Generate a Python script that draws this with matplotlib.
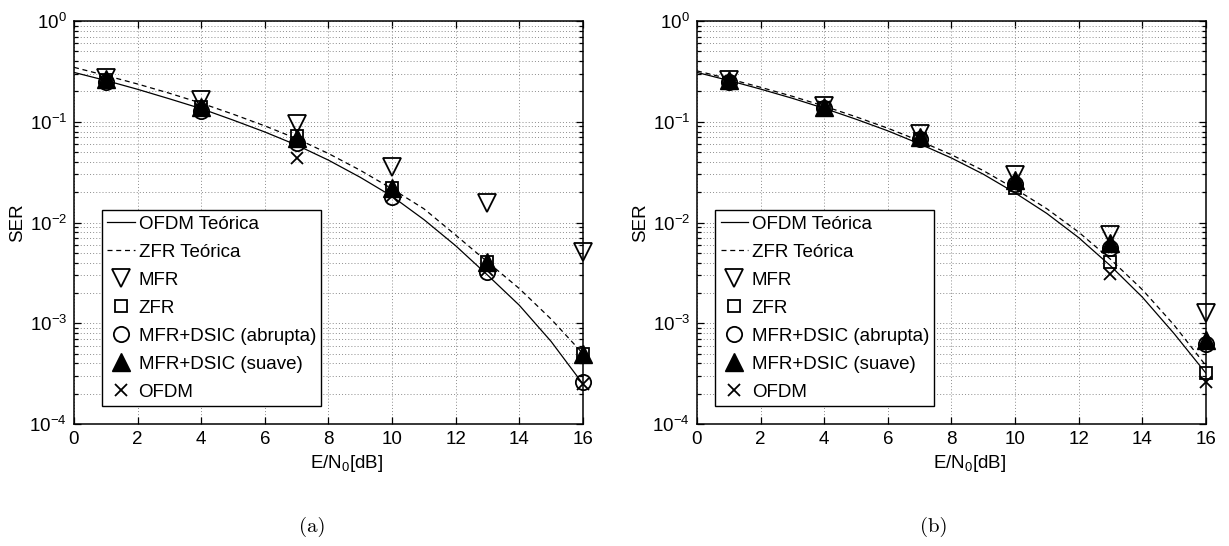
import numpy as np
import matplotlib
matplotlib.use('Agg')
import matplotlib.pyplot as plt
from matplotlib.ticker import LogLocator, NullFormatter, FixedLocator

plt.rcParams['font.family'] = ['Liberation Sans', 'DejaVu Sans']
plt.rcParams['mathtext.fontset'] = 'custom'
plt.rcParams['mathtext.rm'] = 'Liberation Sans'
plt.rcParams['mathtext.it'] = 'Liberation Sans:italic'
plt.rcParams['mathtext.bf'] = 'Liberation Sans:bold'

FS = 13.5

# E/N0 grid for the theoretical curves and for the simulated points
snr_th = [0, 1, 2, 3, 4, 5, 6, 7, 8, 9, 10, 11, 12, 13, 14, 15, 16]
snr = [1, 4, 7, 10, 13, 16]

# (a)
ofdm_th_a = [0.309, 0.257, 0.210, 0.169, 0.135, 0.104, 0.0792, 0.0587, 0.0416,
             0.0281, 0.0182, 0.0107, 0.00588, 0.00301, 0.00151, 0.00066, 0.00025]
zfr_th_a = [0.347, 0.288, 0.237, 0.192, 0.153, 0.119, 0.091, 0.068, 0.0484,
            0.033, 0.0216, 0.0137, 0.0075, 0.00406, 0.00221, 0.0011, 0.0005]
mfr_a = [0.27, 0.165, 0.095, 0.0356, 0.0157, 0.0051]
zfr_a = [0.26, 0.14, 0.072, 0.022, 0.0041, 0.0005]
abrupta_a = [0.25, 0.128, 0.062, 0.018, 0.0032, 0.00026]
suave_a = [0.265, 0.14, 0.069, 0.022, 0.0041, 0.0005]
ofdm_a = [0.25, 0.135, 0.044, 0.0185, 0.0034, 0.00025]

# (b)
ofdm_th_b = [0.309, 0.257, 0.211, 0.171, 0.136, 0.106, 0.0813, 0.0603, 0.0437,
             0.0302, 0.0197, 0.0123, 0.00708, 0.00372, 0.00182, 0.00079, 0.00032]
zfr_th_b = [0.320, 0.267, 0.220, 0.179, 0.143, 0.112, 0.0863, 0.0646, 0.0471,
            0.0328, 0.0216, 0.0137, 0.00803, 0.00432, 0.00216, 0.00096, 0.00038]
mfr_b = [0.26, 0.145, 0.075, 0.0296, 0.0075, 0.00126]
zfr_b = [0.245, 0.138, 0.068, 0.022, 0.0041, 0.00032]
abrupta_b = [0.25, 0.137, 0.067, 0.024, 0.0056, 0.00062]
suave_b = [0.26, 0.14, 0.07, 0.0263, 0.0063, 0.00068]
ofdm_b = [0.25, 0.14, 0.068, 0.023, 0.0031, 0.00026]

labels = ['OFDM Teórica', 'ZFR Teórica', 'MFR', 'ZFR',
          'MFR+DSIC (abrupta)', 'MFR+DSIC (suave)', 'OFDM']


def panel(ax, ofdm_th, zfr_th, mfr, zfr, abrupta, suave, ofdm, leg_x):
    ax.semilogy(snr_th, ofdm_th, 'k-', lw=0.9, label=labels[0])
    ax.semilogy(snr_th, zfr_th, 'k--', lw=0.9, dashes=(4, 3), label=labels[1])
    mk = dict(ls='none', color='k', clip_on=False, zorder=3)
    ax.semilogy(snr, mfr, marker='v', ms=13, mfc='none', mew=1.3, label=labels[2], **mk)
    ax.semilogy(snr, zfr, marker='s', ms=9, mfc='none', mew=1.3, label=labels[3], **mk)
    ax.semilogy(snr, abrupta, marker='o', ms=11, mfc='none', mew=1.3, label=labels[4], **mk)
    ax.semilogy(snr, suave, marker='^', ms=13, mfc='k', mew=1.0, label=labels[5], **mk)
    ax.semilogy(snr, ofdm, marker='x', ms=9, mew=1.3, label=labels[6], **mk)

    ax.set_xlim(0, 16)
    ax.set_ylim(1e-4, 1)
    ax.xaxis.set_major_locator(FixedLocator([0, 2, 4, 6, 8, 10, 12, 14, 16]))
    ax.yaxis.set_major_locator(LogLocator(base=10, numticks=10))
    ax.yaxis.set_minor_locator(LogLocator(base=10, subs=np.arange(2, 10), numticks=10))
    ax.yaxis.set_minor_formatter(NullFormatter())

    ax.grid(True, which='major', axis='both', color='0.55', ls=(0, (1, 2.2)), lw=0.7)
    ax.grid(True, which='minor', axis='y', color='0.55', ls=(0, (1, 2.2)), lw=0.7)
    ax.set_axisbelow(True)
    ax.tick_params(which='both', direction='in', top=True, right=True,
                   labelsize=FS, width=0.9)
    ax.tick_params(which='major', length=5, pad=5)
    ax.tick_params(which='minor', length=3)
    for s in ax.spines.values():
        s.set_linewidth(1.1)

    ax.set_xlabel(r'E/N$_0$[dB]', fontsize=FS)
    ax.xaxis.set_label_coords(0.535, -0.072)
    ax.set_ylabel('SER', fontsize=FS)
    ax.yaxis.set_label_coords(-0.095, 0.5)

    leg = ax.legend(loc='lower left', bbox_to_anchor=(leg_x, 0.045), borderaxespad=0,
                    fontsize=FS, numpoints=1, handlelength=1.47, handletextpad=0.2,
                    labelspacing=0.58, borderpad=0.28, fancybox=False,
                    framealpha=1, edgecolor='k')
    leg.get_frame().set_linewidth(1.0)


fig = plt.figure(figsize=(12.29, 5.46), dpi=100)
ax1 = fig.add_axes([0.0602, 0.2234, 0.4141, 0.7381])
ax2 = fig.add_axes([0.5671, 0.2234, 0.4141, 0.7381])

panel(ax1, ofdm_th_a, zfr_th_a, mfr_a, zfr_a, abrupta_a, suave_a, ofdm_a, 0.055)
panel(ax2, ofdm_th_b, zfr_th_b, mfr_b, zfr_b, abrupta_b, suave_b, ofdm_b, 0.036)

fig.text(0.254, 0.035, '(a)', fontfamily='cmr10', fontsize=15, ha='center', va='center')
fig.text(0.760, 0.035, '(b)', fontfamily='cmr10', fontsize=15, ha='center', va='center')

fig.savefig('out.png', dpi=100)
